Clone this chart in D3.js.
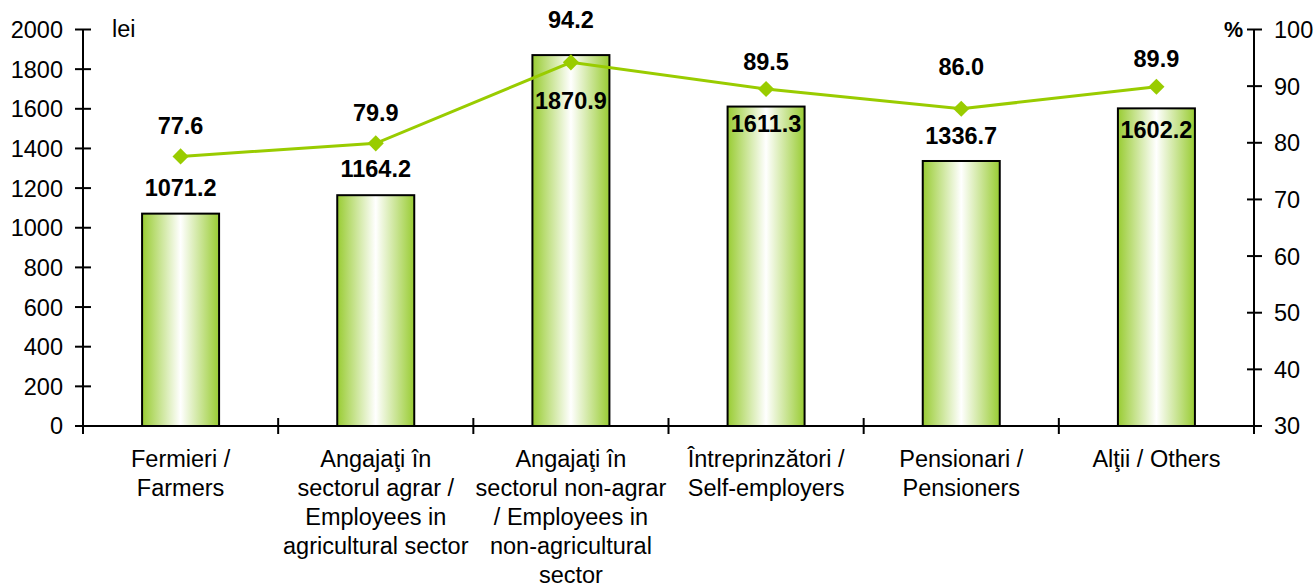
<!DOCTYPE html>
<html>
<head>
<meta charset="utf-8">
<script src="https://cdn.jsdelivr.net/npm/d3@7"></script>
<style>
  body { margin: 0; background: #fff; }
  svg { font-family: "Liberation Sans", Arial, sans-serif; }
</style>
</head>
<body>
<svg id="chart" width="1315" height="588"></svg>
<script>
// categories, each split into the lines shown under the axis
const categories = [
  ['Fermieri /', 'Farmers'],
  ['Angaja\u0163i \u00een', 'sectorul agrar /', 'Employees in', 'agricultural sector'],
  ['Angaja\u0163i \u00een', 'sectorul non-agrar', '/ Employees in', 'non-agricultural', 'sector'],
  ['\u00centreprinz\u0103tori /', 'Self-employers'],
  ['Pensionari /', 'Pensioners'],
  ['Al\u0163ii / Others']
];
const incomeLei = [1071.2, 1164.2, 1870.9, 1611.3, 1336.7, 1602.2];
const sharePct = [77.6, 79.9, 94.2, 89.5, 86.0, 89.9];
const leftTicks = [0, 200, 400, 600, 800, 1000, 1200, 1400, 1600, 1800, 2000];
const rightTicks = [30, 40, 50, 60, 70, 80, 90, 100];

// label nudges (px, baseline relative to bar top / marker), as placed in the original
const barLabelDy = [-18, -18, 54, 25, -17, 30];
const lineLabelDy = [-22, -22, -34, -19, -34, -20];

const svg = d3.select('#chart');
const m = { left: 83, right: 1254, top: 29.5, bottom: 426 };
const fontSize = 23.5;
const green = '#99cc00';

const x = d3.scaleBand().domain(d3.range(categories.length)).range([m.left, m.right]);
const yL = d3.scaleLinear().domain([0, 2000]).range([m.bottom, m.top]);
const yR = d3.scaleLinear().domain([30, 100]).range([m.bottom, m.top]);
const barW = 77;

const grad = svg.append('defs').append('linearGradient')
  .attr('id', 'barGrad').attr('x1', 0).attr('x2', 1).attr('y1', 0).attr('y2', 0);
grad.append('stop').attr('offset', '0%').attr('stop-color', '#99cc33');
grad.append('stop').attr('offset', '50%').attr('stop-color', '#ffffff');
grad.append('stop').attr('offset', '100%').attr('stop-color', '#99cc33');

// bars
svg.append('g').selectAll('rect')
  .data(incomeLei)
  .enter().append('rect')
  .attr('x', (d, i) => x(i) + x.bandwidth() / 2 - barW / 2)
  .attr('y', d => yL(d))
  .attr('width', barW)
  .attr('height', d => yL(0) - yL(d))
  .attr('fill', 'url(#barGrad)')
  .attr('stroke', '#000')
  .attr('stroke-width', 2);

// left axis
const axL = svg.append('g').attr('transform', `translate(${m.left},0)`);
axL.append('line').attr('y1', yL(2000)).attr('y2', yL(0)).attr('stroke', '#000').attr('stroke-width', 2);
axL.selectAll('line.tk').data(leftTicks).enter().append('line').attr('class', 'tk')
  .attr('x1', -8).attr('x2', 8).attr('y1', d => yL(d)).attr('y2', d => yL(d))
  .attr('stroke', '#000').attr('stroke-width', 2);
axL.selectAll('text').data(leftTicks).enter().append('text')
  .attr('x', -20).attr('y', d => yL(d)).attr('dy', '0.36em')
  .attr('text-anchor', 'end').attr('font-size', fontSize).text(d => d);

// right axis
const axR = svg.append('g').attr('transform', `translate(${m.right},0)`);
axR.append('line').attr('y1', yR(100)).attr('y2', yR(30)).attr('stroke', '#000').attr('stroke-width', 2);
axR.selectAll('line.tk').data(rightTicks).enter().append('line').attr('class', 'tk')
  .attr('x1', -7).attr('x2', 8).attr('y1', d => yR(d)).attr('y2', d => yR(d))
  .attr('stroke', '#000').attr('stroke-width', 2);
axR.selectAll('text').data(rightTicks).enter().append('text')
  .attr('x', 20).attr('y', d => yR(d)).attr('dy', '0.36em')
  .attr('font-size', fontSize).text(d => d);

// bottom axis
const axB = svg.append('g');
axB.append('line').attr('x1', m.left).attr('x2', m.right).attr('y1', m.bottom).attr('y2', m.bottom)
  .attr('stroke', '#000').attr('stroke-width', 2);
axB.selectAll('line.tk').data(d3.range(categories.length + 1)).enter().append('line').attr('class', 'tk')
  .attr('x1', i => m.left + i * x.step()).attr('x2', i => m.left + i * x.step())
  .attr('y1', m.bottom - 8).attr('y2', m.bottom + 8)
  .attr('stroke', '#000').attr('stroke-width', 2);
const catText = axB.selectAll('text').data(categories).enter().append('text')
  .attr('text-anchor', 'middle').attr('font-size', fontSize)
  .attr('transform', (d, i) => `translate(${x(i) + x.bandwidth() / 2},467)`);
catText.selectAll('tspan').data(d => d).enter().append('tspan')
  .attr('x', 0).attr('y', (d, j) => j * 29).text(d => d);

// axis titles
svg.append('text').attr('x', 112).attr('y', 37).attr('font-size', fontSize).text('lei');
svg.append('text').attr('x', 1243).attr('y', 37).attr('text-anchor', 'end')
  .attr('font-size', fontSize - 2).attr('font-weight', 'bold').text('%');

// line series
const line = d3.line().x((d, i) => x(i) + x.bandwidth() / 2).y(d => yR(d));
svg.append('path').datum(sharePct)
  .attr('d', line).attr('fill', 'none').attr('stroke', green).attr('stroke-width', 3);
svg.append('g').selectAll('path').data(sharePct).enter().append('path')
  .attr('d', d3.symbol(d3.symbolSquare, 130))
  .attr('transform', (d, i) => `translate(${x(i) + x.bandwidth() / 2},${yR(d)}) rotate(45)`)
  .attr('fill', green);

// labels
svg.append('g').selectAll('text').data(incomeLei).enter().append('text')
  .attr('x', (d, i) => x(i) + x.bandwidth() / 2)
  .attr('y', (d, i) => yL(d) + barLabelDy[i])
  .attr('text-anchor', 'middle').attr('font-size', fontSize).attr('font-weight', 'bold')
  .text(d => d.toFixed(1));
svg.append('g').selectAll('text').data(sharePct).enter().append('text')
  .attr('x', (d, i) => x(i) + x.bandwidth() / 2)
  .attr('y', (d, i) => yR(d) + lineLabelDy[i])
  .attr('text-anchor', 'middle').attr('font-size', fontSize).attr('font-weight', 'bold')
  .text(d => d.toFixed(1));
</script>
</body>
</html>
